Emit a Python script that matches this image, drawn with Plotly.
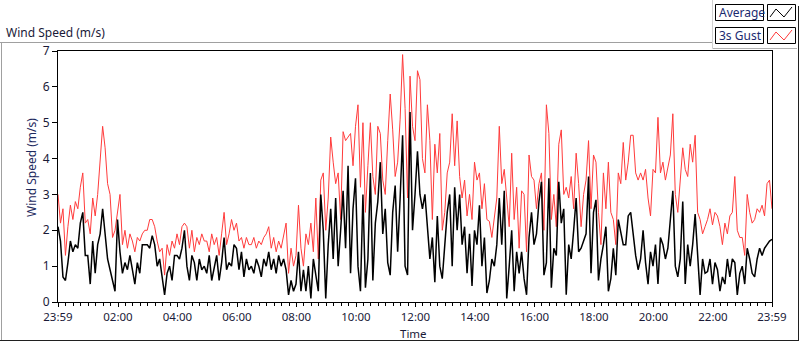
import plotly.graph_objects as go
import pandas as pd

# ---------------- data (5-minute steps) ----------------
gust_3s = [
    3.0, 2.2, 2.6, 1.3, 2.1, 2.7, 2.3, 2.8, 2.6, 3.2, 3.6, 2.2,
    2.3, 1.9, 2.9, 2.4, 3.0, 4.0, 4.9, 4.3, 3.3, 3.0, 1.8, 2.0,
    2.5, 3.0, 1.6, 2.0, 1.5, 1.9, 1.7, 1.4, 1.8, 1.7, 1.9, 2.0,
    2.0, 2.3, 2.3, 2.1, 1.7, 1.4, 1.5, 0.75, 1.6, 1.3, 1.7, 1.5,
    1.9, 1.6, 2.1, 2.2, 2.1, 1.5, 2.0, 1.4, 1.8, 1.6, 1.9, 1.7,
    1.7, 1.4, 1.9, 1.6, 1.8, 1.3, 1.9, 2.5, 1.6, 1.9, 2.3, 2.0,
    2.2, 1.7, 1.8, 1.5, 1.8, 1.6, 1.6, 1.8, 1.5, 1.7, 1.6, 1.8,
    1.9, 2.1, 1.5, 1.8, 1.4, 1.7, 1.5, 1.9, 2.2, 0.8, 1.5, 1.0,
    1.3, 2.7, 1.5, 1.0, 1.9, 1.6, 2.2, 1.4, 2.9, 1.2, 3.4, 3.6,
    2.0, 2.9, 4.6, 3.9, 3.3, 3.6, 2.3, 4.75, 4.5, 4.6, 4.7, 3.8,
    4.9, 5.5, 3.2, 5.0, 2.5, 3.8, 5.0, 3.5, 3.0, 4.9, 4.7, 3.4,
    3.0, 4.5, 5.8, 4.8, 3.5, 3.9, 5.1, 6.9, 5.4, 2.9, 6.3, 4.9,
    4.5, 6.45, 6.2, 4.0, 3.6, 5.5, 4.5, 2.3, 4.4, 3.6, 4.7, 2.0,
    2.5, 3.6, 3.9, 5.25, 3.8, 5.05, 3.5, 2.9, 3.4, 2.4, 3.0, 2.3,
    3.9, 3.4, 3.6, 2.6, 3.3, 2.3, 2.25, 1.8, 2.4, 2.9, 4.9, 3.3,
    3.7, 2.9, 2.1, 4.15, 2.3, 3.2, 1.5, 3.1, 3.0, 1.4, 4.1, 3.5,
    3.4, 2.6, 3.3, 3.6, 2.0, 5.5, 4.7, 2.3, 3.0, 2.1, 4.4, 4.8,
    3.0, 3.2, 2.9, 3.5, 2.6, 4.15, 3.3, 2.1, 3.0, 3.4, 4.5, 2.6,
    4.1, 3.9, 2.5, 1.6, 3.6, 2.6, 3.9, 2.5, 2.3, 1.6, 3.6, 3.3,
    4.45, 3.4, 3.9, 4.65, 4.65, 3.6, 3.4, 3.6, 3.4, 3.7, 2.9, 2.4,
    3.7, 3.6, 5.15, 3.6, 3.9, 3.4, 3.8, 4.1, 5.25, 3.0, 2.5, 3.5,
    4.3, 3.7, 3.5, 4.4, 3.9, 4.65, 2.5, 2.3, 1.9, 2.1, 2.3, 2.6,
    2.15, 2.5, 2.4, 2.1, 1.6, 2.2, 1.9, 2.4, 2.5, 3.5, 2.0, 1.8,
    1.8, 1.3, 3.0, 2.5, 2.2, 2.3, 2.6, 2.5, 2.7, 2.4, 3.3, 3.4, 2.6,
]

average = [
    2.1, 1.7, 0.7, 0.6, 1.1, 1.7, 1.4, 1.6, 1.5, 2.2, 2.5, 1.3,
    1.3, 0.5, 1.7, 0.8, 1.6, 1.9, 2.6, 1.8, 1.2, 0.9, 0.6, 0.3,
    2.3, 1.4, 0.8, 1.1, 0.9, 1.3, 0.9, 0.5, 1.1, 0.8, 1.6, 1.6,
    1.6, 1.5, 1.85, 1.6, 1.0, 1.2, 0.7, 0.2, 0.8, 1.0, 0.6, 1.3,
    1.3, 1.2, 1.5, 2.0, 1.0, 0.6, 1.3, 1.1, 0.6, 1.2, 0.9, 1.0,
    0.8, 1.3, 0.6, 1.0, 1.3, 0.6, 1.1, 1.8, 0.9, 1.1, 1.0, 1.6,
    1.5, 0.9, 1.4, 0.7, 1.2, 0.9, 1.0, 0.8, 1.2, 1.0, 0.7, 1.2,
    1.0, 1.4, 0.9, 1.2, 0.8, 1.3, 1.0, 1.2, 0.9, 0.2, 0.6, 0.3,
    0.5, 1.4, 0.3, 0.9, 0.3, 1.0, 0.1, 1.2, 0.8, 0.3, 3.0, 2.0,
    0.1, 1.6, 2.6, 1.2, 2.9, 1.0, 2.0, 3.1, 1.5, 3.8, 0.8, 2.6,
    3.45, 1.0, 0.3, 3.0, 0.4, 1.2, 3.6, 0.6, 2.2, 2.8, 3.9, 1.9,
    2.6, 1.1, 0.75, 2.5, 3.25, 1.4, 2.9, 4.65, 1.0, 0.75, 5.3, 2.0,
    3.0, 4.2, 3.0, 2.6, 3.0, 2.2, 1.2, 1.8, 0.55, 2.4, 1.0, 0.65,
    1.6, 2.5, 3.0, 1.0, 3.2, 2.0, 3.0, 1.6, 2.1, 0.8, 1.9, 0.45,
    2.0, 1.6, 2.7, 1.0, 1.8, 0.25, 0.6, 1.2, 1.0, 1.6, 2.9, 1.6,
    3.1, 0.1, 1.0, 2.0, 0.3, 1.4, 0.8, 1.4, 0.65, 0.2, 1.8, 2.5,
    1.6, 1.9, 2.8, 3.35, 0.75, 1.1, 3.45, 0.4, 1.5, 1.3, 3.35, 2.2,
    2.6, 0.2, 1.6, 1.2, 2.0, 2.9, 1.4, 1.5, 1.7, 1.9, 3.5, 0.8,
    2.5, 2.85, 0.6, 1.2, 1.6, 2.1, 0.3, 0.65, 1.5, 0.75, 2.3, 1.9,
    1.6, 1.6, 2.4, 2.5, 1.8, 1.3, 0.9, 1.2, 2.0, 1.1, 0.5, 1.4,
    1.0, 1.6, 0.5, 1.8, 1.6, 1.2, 1.5, 2.2, 3.1, 1.0, 0.7, 1.2,
    2.8, 0.5, 1.6, 1.0, 1.6, 2.45, 1.2, 0.2, 1.2, 0.8, 0.85, 1.2,
    0.5, 1.1, 0.9, 0.3, 0.7, 0.5, 1.2, 0.7, 1.2, 1.1, 0.2, 0.8,
    1.0, 0.5, 1.5, 1.2, 0.8, 0.7, 1.2, 1.5, 1.3, 1.5, 1.6, 1.7, 1.75,
]

start_time = "2024-01-01 23:59"
sample_step = "5min"
tick_labels = ["23:59", "02:00", "04:00", "06:00", "08:00", "10:00",
               "12:00", "14:00", "16:00", "18:00", "20:00", "22:00", "23:59"]
y_ticks = [0, 1, 2, 3, 4, 5, 6, 7]

# ---------------- build ----------------
times = pd.date_range(start_time, periods=len(average), freq=sample_step)
t0 = times[0]
t1 = times[-1]
day2 = pd.Timestamp("2024-01-02")
tick_vals = [t0] + [day2 + pd.Timedelta(lab + ":00") for lab in tick_labels[1:-1]] + [t1]

TXT = "#1a1a38"
FONT = "Noto Sans"

fig = go.Figure()
fig.add_trace(go.Scatter(x=times, y=gust_3s, mode="lines", name="3s Gust",
                         line=dict(color="#ff3b3b", width=1)))
fig.add_trace(go.Scatter(x=times, y=average, mode="lines", name="Average",
                         line=dict(color="#000000", width=1.5)))

L, R, T, B = 58, 772, 51, 302
W, H = R - L, B - T


def px(x):
    return (x - L) / W


def py(y):
    return (B - y) / H


shapes = []


def line(x0, y0, x1, y1, color, width=1):
    shapes.append(dict(type="line", xref="paper", yref="paper",
                       x0=px(x0), y0=py(y0), x1=px(x1), y1=py(y1),
                       line=dict(color=color, width=width)))


def rect(x0, y0, x1, y1, color="#000000", fill="#ffffff"):
    shapes.append(dict(type="rect", xref="paper", yref="paper",
                       x0=px(x0), y0=py(y0), x1=px(x1), y1=py(y1),
                       line=dict(color=color, width=1), fillcolor=fill))


def zig(pts, color):
    d = "M " + " L ".join(f"{px(a):.5f},{py(b):.5f}" for a, b in pts)
    shapes.append(dict(type="path", xref="paper", yref="paper", path=d,
                       line=dict(color=color, width=1)))


# outer frame
line(0, 42.5, 712, 42.5, "#a0a0a0")
line(1.5, 42.5, 1.5, 341, "#a0a0a0")
line(0, 340.5, 799, 340.5, "#202020")
line(798.5, 6, 798.5, 341, "#202020")
# legend panel
line(712.5, 0, 712.5, 48, "#d0d0d0")
line(712.5, 48.5, 797, 48.5, "#b0b0b0")
rect(715.5, 4.5, 763.5, 20.5)
rect(767.5, 4.5, 795.5, 20.5)
rect(715.5, 27.5, 763.5, 43.5)
rect(767.5, 27.5, 795.5, 43.5)
zig([(770, 17), (776, 9), (784, 17), (792, 7)], "#000000")
zig([(770, 40), (776, 32), (784, 40), (792, 30)], "#ff3b3b")

annotations = [
    dict(text="Wind Speed (m/s)", xref="paper", yref="paper", x=px(4), y=py(32),
         xanchor="left", yanchor="middle", showarrow=False,
         font=dict(family=FONT, size=12, color=TXT)),
    dict(text="Average", xref="paper", yref="paper", x=px(717), y=py(12.5),
         xanchor="left", yanchor="middle", showarrow=False,
         font=dict(family=FONT, size=12, color="#1a2a70")),
    dict(text="3s Gust", xref="paper", yref="paper", x=px(717), y=py(35.5),
         xanchor="left", yanchor="middle", showarrow=False,
         font=dict(family=FONT, size=12, color="#1a2a70")),
    dict(text="Wind Speed (m/s)", xref="paper", yref="paper", x=px(31), y=py(168),
         xanchor="center", yanchor="middle", textangle=-90, showarrow=False,
         font=dict(family=FONT, size=12, color="#1e2a5e")),
    dict(text="Time", xref="paper", yref="paper", x=px(413), y=py(333.5),
         xanchor="center", yanchor="middle", showarrow=False, borderpad=0,
         font=dict(family=FONT, size=11.5, color=TXT)),
]

fig.update_layout(
    width=800, height=342,
    margin=dict(l=L, r=800 - R, t=T, b=342 - B),
    paper_bgcolor="#ffffff", plot_bgcolor="#ffffff",
    showlegend=False,
    font=dict(family=FONT, size=12, color=TXT),
    shapes=shapes, annotations=annotations,
    xaxis=dict(type="date", range=[t0, t1], tickmode="array",
               tickvals=tick_vals, ticktext=tick_labels,
               ticks="outside", ticklen=4, tickcolor="#000000",
               showline=True, linecolor="#000000", linewidth=1, mirror=True,
               showgrid=False, zeroline=False,
               tickfont=dict(family=FONT, size=11.5, color=TXT),
               minor=dict(ticks="outside", ticklen=3, tickcolor="#000000",
                          tickmode="linear", dtick=15 * 60 * 1000,
                          tick0="2024-01-02 00:00", showgrid=False)),
    yaxis=dict(range=[0, 7], tickmode="array", tickvals=y_ticks,
               ticks="outside", ticklen=5, tickcolor="#000000",
               showline=True, linecolor="#000000", linewidth=1, mirror=True,
               showgrid=False, zeroline=False,
               tickfont=dict(family=FONT, size=12, color=TXT)),
)

fig.write_html(
    "out.html",
    config={"displayModeBar": False},
    post_script="document.body.style.margin='0';document.body.style.overflow='hidden';",
)
